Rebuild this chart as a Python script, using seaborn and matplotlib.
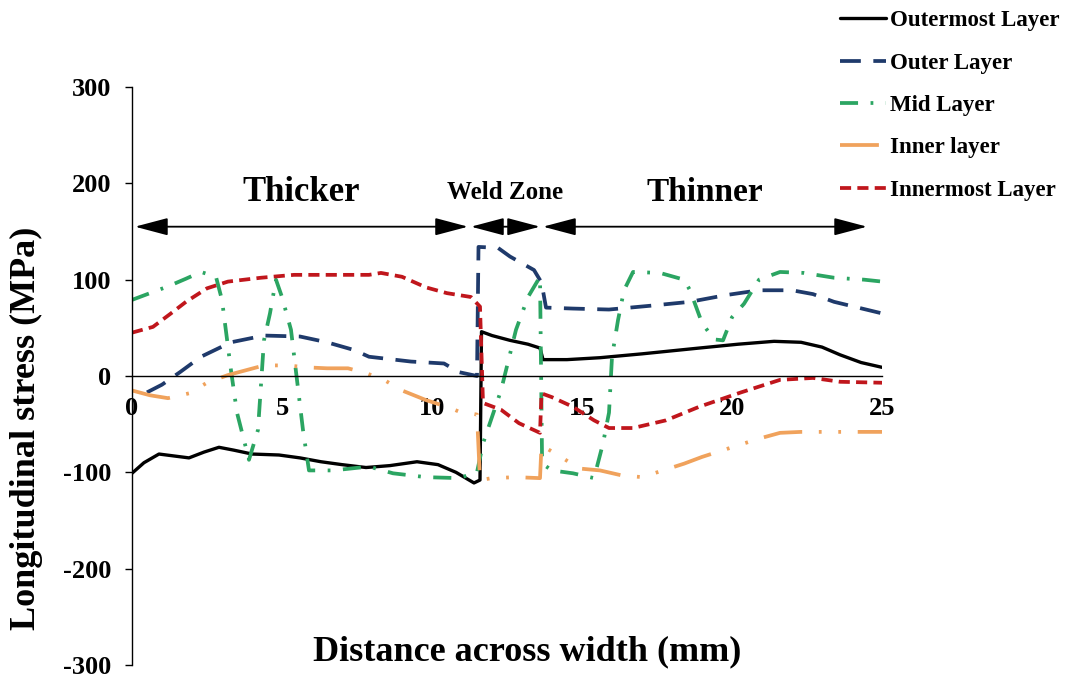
import numpy as np
import pandas as pd
import matplotlib
matplotlib.use('Agg')
import matplotlib.pyplot as plt
import seaborn as sns

outermost_x = [0, 0.4, 0.9, 1.4, 1.9, 2.4, 2.9, 3.4, 4.0, 4.9, 5.6, 6.3, 7.0, 7.8, 8.6, 9.5, 10.2, 10.8, 11.4, 11.6,
               11.65, 12.0, 12.6, 13.2, 13.6, 13.7, 14.5, 15.6, 17.0, 18.9, 20.2, 21.4, 22.3, 23.0, 23.6, 24.3, 25]
outermost_y = [-101, -90, -81, -83, -85, -79, -74, -77, -81, -82, -85, -89, -92, -95, -93, -89, -92, -100, -111, -108,
               46, 42, 37, 33, 29, 17, 17, 19, 23, 29, 33, 36, 35, 30, 22, 14, 9]

outer_x = [0.5, 1.0, 1.6, 2.3, 3.3, 4.4, 5.6, 6.5, 7.4, 7.9, 9.3, 10.4, 10.9, 11.5, 11.55, 12.2, 12.6, 13.4, 13.65,
           13.8, 14.7, 15.9, 17.3, 18.6, 19.8, 20.9, 22.0, 22.7, 23.4, 24.2, 25]
outer_y = [-17, -9, 4, 20, 35, 42, 41, 35, 27, 20, 15, 13, 4, 0, 134, 133, 124, 110, 97,
           71, 70, 69, 73, 77, 84, 89, 89, 85, 77, 71, 65]

mid_x = [0, 0.6, 1.2, 1.8, 2.3, 2.8, 3.0, 3.3, 3.5, 3.9, 4.2, 4.4, 4.6, 4.8, 5.0, 5.3, 5.5, 5.7, 5.9, 6.7, 7.9,
         8.7, 9.8, 10.9, 11.5, 11.7, 12.3, 12.8, 13.2, 13.6, 13.67, 14.0, 14.7, 15.4, 15.7, 15.9, 16.0, 16.2, 16.4,
         16.7, 17.6, 18.4, 18.6, 19.0, 19.4, 19.7, 20.0, 20.4, 20.9, 21.6, 22.4, 23.4, 24.4, 25]
mid_y = [79, 86, 93, 101, 108, 103, 79, 6, -38, -87, -56, 37, 65, 100, 82, 48, -4, -56, -98, -98, -94,
         -101, -105, -106, -100, -70, -15, 48, 82, 103, -91, -98, -101, -106, -70, -38, 20, 58, 89,
         108, 107, 100, 89, 55, 38, 37, 61, 75, 100, 108, 107, 102, 100, 98]

inner_x = [0, 0.6, 1.2, 1.9, 2.5, 3.2, 3.8, 4.4, 5.2, 5.8, 6.5, 7.2, 7.8, 8.4, 9.0, 9.8, 10.6, 10.9, 11.5, 11.6,
           12.0, 12.8, 13.6, 13.65, 14.3, 14.9, 15.6, 16.3, 17.0, 17.7, 18.4, 19.0, 19.7, 20.3, 20.9, 21.6, 22.3,
           23.6, 25]
inner_y = [-15, -20, -23, -18, -7, 1, 6, 11, 11, 9, 8, 8, 3, -4, -15, -25, -33, -37, -40, -108,
           -106, -105, -106, -72, -84, -96, -98, -103, -105, -98, -91, -84, -77, -71, -65, -59, -58,
           -58, -58]

innermost_x = [0, 0.7, 1.3, 1.8, 2.5, 3.2, 4.3, 5.4, 6.8, 7.9, 8.3, 9.0, 9.8, 10.5, 11.3, 11.6, 11.7, 12.3, 12.9,
               13.6, 13.65, 14.0, 14.7, 15.4, 15.9, 16.7, 17.8, 18.9, 20.3, 21.6, 22.7, 23.6, 25]
innermost_y = [45, 51, 65, 77, 91, 98, 102, 105, 105, 105, 107, 103, 92, 86, 82, 72, -28, -35, -49,
               -59, -18, -22, -32, -46, -54, -54, -46, -32, -17, -4, -2, -6, -7]

x_ticks = [0, 5, 10, 15, 20, 25]
y_ticks = [-300, -200, -100, 0, 100, 200, 300]

# зоны: подпись, начало, конец
zone_names = ['Thicker', 'Weld Zone', 'Thinner']
zone_start = [0.1, 11.3, 13.7]
zone_end = [11.2, 13.6, 24.5]

sns.set_theme(style='white')
plt.rcParams['font.family'] = ['Liberation Serif', 'DejaVu Serif']
plt.rcParams['font.weight'] = 'bold'
plt.rcParams['lines.scale_dashes'] = False
# seaborn по умолчанию красит текст в тёмно-серый, в оригинале чёрный
plt.rcParams['text.color'] = 'black'
plt.rcParams['axes.labelcolor'] = 'black'
plt.rcParams['xtick.color'] = 'black'
plt.rcParams['ytick.color'] = 'black'

fig = plt.figure(figsize=(10.72, 6.77), dpi=100)
ax = fig.add_axes([0.1231, 0.0177, 0.6997, 0.8538])

series = [
    ('Outermost Layer', outermost_x, outermost_y, 'black', '-', 2.4),
    ('Outer Layer', outer_x, outer_y, '#1f3a6b', (0, (15, 9)), 2.7),
    ('Mid Layer', mid_x, mid_y, '#2ba562', (0, (13, 9, 2, 9)), 2.7),
    ('Inner layer', inner_x, inner_y, '#f0a25c', (0, (28, 12, 2, 12, 2, 12)), 2.7),
    ('Innermost Layer', innermost_x, innermost_y, '#c0161c', (0, (8, 4.5)), 2.7),
]
for name, xs, ys, color, ls, lw in series:
    sns.lineplot(x=xs, y=ys, ax=ax, color=color, linestyle=ls, linewidth=lw,
                 sort=False, estimator=None, label=name)

ax.set_xlim(0, 25)
ax.set_ylim(-300, 300)
ax.set_xticks(x_ticks)
ax.set_yticks(y_ticks)
ax.set_yticklabels([str(v) for v in y_ticks])

for side in ['top', 'right']:
    ax.spines[side].set_visible(False)
ax.spines['bottom'].set_position(('data', 0))
ax.spines['bottom'].set_color('black')
ax.spines['bottom'].set_linewidth(1.0)
ax.spines['left'].set_color('black')
ax.spines['left'].set_linewidth(1.0)

ax.tick_params(axis='x', length=0, pad=15, labelsize=19, labelcolor='black')
ax.tick_params(axis='y', left=True, length=5, width=1, color='black', pad=10, labelsize=19, labelcolor='black')
for lab in ax.get_xticklabels() + ax.get_yticklabels():
    lab.set_fontweight('bold')

ax.set_xlabel('Distance across width (mm)', fontsize=26, fontweight='bold', color='black')
ax.xaxis.label.set_va('center')
ax.xaxis.set_label_coords(0.527, 0.022)
ax.set_ylabel('Longitudinal stress (MPa)', fontsize=26, fontweight='bold', color='black')
ax.yaxis.label.set_va('center')
ax.yaxis.set_label_coords(-0.141, 0.41)

# стрелки зон и подписи над ними
for name, x0, x1 in zip(zone_names, zone_start, zone_end):
    ax.annotate('', xy=(x1, 155), xytext=(x0, 155),
                arrowprops=dict(arrowstyle='<|-|>,head_length=1.7,head_width=0.45',
                                color='black', lw=1.3, shrinkA=0, shrinkB=0))
    size = {'Thicker': 25, 'Weld Zone': 18, 'Thinner': 24}[name]
    ax.text((x0 + x1) / 2, 191, name, ha='center', va='center', fontsize=size,
            fontweight='bold', color='black')

leg = ax.legend(loc='upper left', bbox_to_anchor=(0.784, 0.985), bbox_transform=fig.transFigure,
                frameon=False, prop={'size': 16.5, 'weight': 'bold'}, handlelength=2.0,
                handletextpad=0.15, labelspacing=0.93, borderpad=0, borderaxespad=0)
for t in leg.get_texts():
    t.set_color('black')

fig.savefig('out.png', dpi=100)
